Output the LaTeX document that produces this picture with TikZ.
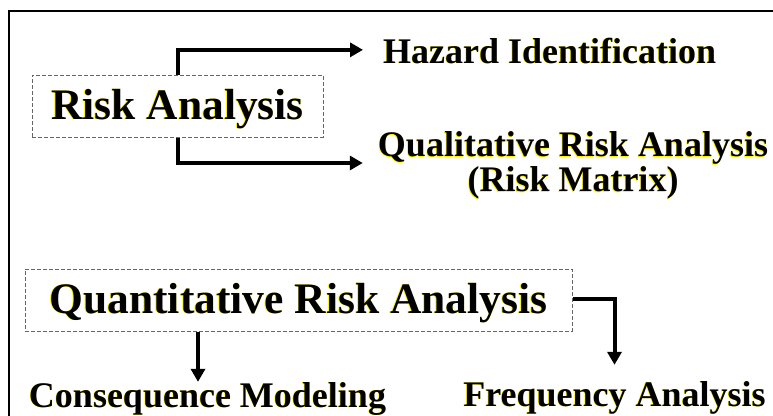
\documentclass[tikz,border=0pt]{standalone}
\usepackage{fontspec}
\setmainfont{Liberation Serif}
\usetikzlibrary{arrows.meta}
\newcommand\ysh[1]{\makebox[0pt][l]{\kern-0.7pt\raisebox{-0.7pt}{\color{yellow}#1}}#1}
\tikzset{
  bigbox/.style={draw=black!60, line width=1pt, dash pattern=on 4pt off 2pt,
    inner sep=0pt, text height=30pt, text depth=4pt,
    font=\fontsize{43.5}{50}\selectfont\bfseries, minimum height=62pt},
  lbl/.style={inner sep=0pt, font=\fontsize{36}{35}\selectfont\bfseries},
  arr/.style={line width=4pt, -{Triangle[length=13pt,width=14pt]}},
}
\begin{document}
\begin{tikzpicture}[x=1pt,y=-1pt]
\useasboundingbox (0,0) rectangle (773,415);
\fill[white] (0,0) rectangle (773,415);
% outer frame
\draw[line width=2pt] (9,416) -- (9,11) -- (774,11);
% nodes
\node[bigbox, minimum width=291pt] (ra) at (177.5,106) {\ysh{Risk Analysis}};
\node[lbl, anchor=base west] (haz) at (383,63) {\ysh{Hazard Identification}};
\node[lbl, align=center] (qual) at (573,166) {\ysh{Qualitative Risk Analysis}\\\ysh{(Risk Matrix)}};
\node[bigbox, minimum width=547pt] (qra) at (298.5,300) {\ysh{Quantitative Risk Analysis}};
\node[lbl, anchor=base] (cons) at (207.5,407) {\ysh{Consequence Modeling}};
\node[lbl, anchor=base] (freq) at (614.5,406) {\ysh{Frequency Analysis}};
% connectors
\draw[arr] ([xshift=0.5pt]ra.north) |- ([xshift=-20pt,yshift=1pt]haz.west);
\draw[arr] ([xshift=0.5pt]ra.south) |- ([xshift=-15pt,yshift=3pt]qual.west);
\draw[arr] ([xshift=-100.5pt]qra.south) -- ([xshift=-100.5pt]qra.south |- cons.north);
\draw[arr] ([yshift=1pt]qra.east) -| ([yshift=16pt]freq.north);
\end{tikzpicture}
\end{document}
